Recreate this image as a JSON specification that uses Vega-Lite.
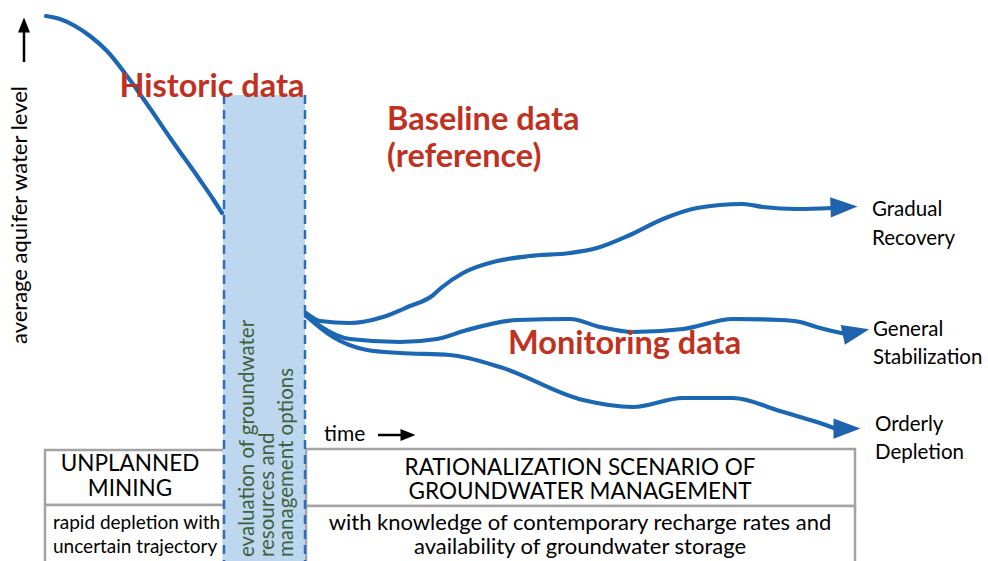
{
  "$schema": "https://vega.github.io/schema/vega-lite/v6.json",
  "width": 988,
  "height": 561,
  "autosize": "none",
  "padding": 0,
  "background": "white",
  "config": {"view": {"stroke": null}},
  "datasets": {
    "boxes": [
      {"x": 45, "x2": 224, "y": 450, "y2": 505},
      {"x": 45, "x2": 224, "y": 505, "y2": 580},
      {"x": 306, "x2": 855, "y": 449, "y2": 506},
      {"x": 306, "x2": 855, "y": 506, "y2": 580}
    ],
    "band": [{"x": 223, "x2": 305, "y": 95, "y2": 580}],
    "bandEdges": [{"x": 224, "y": 95, "y2": 561}, {"x": 305, "y": 95, "y2": 561}],
    "curves": [
      {"series": "historic", "i": 0, "x": 46, "y": 16},
      {"series": "historic", "i": 1, "x": 60, "y": 19},
      {"series": "historic", "i": 2, "x": 75, "y": 26},
      {"series": "historic", "i": 3, "x": 90, "y": 36},
      {"series": "historic", "i": 4, "x": 107, "y": 51},
      {"series": "historic", "i": 5, "x": 127, "y": 76},
      {"series": "historic", "i": 6, "x": 147, "y": 104},
      {"series": "historic", "i": 7, "x": 173, "y": 142},
      {"series": "historic", "i": 8, "x": 200, "y": 180},
      {"series": "historic", "i": 9, "x": 213, "y": 199},
      {"series": "historic", "i": 10, "x": 222, "y": 213},
      {"series": "recovery", "i": 0, "x": 306, "y": 313},
      {"series": "recovery", "i": 1, "x": 320, "y": 321},
      {"series": "recovery", "i": 2, "x": 350, "y": 323},
      {"series": "recovery", "i": 3, "x": 383, "y": 317},
      {"series": "recovery", "i": 4, "x": 410, "y": 306},
      {"series": "recovery", "i": 5, "x": 432, "y": 296},
      {"series": "recovery", "i": 6, "x": 441, "y": 288},
      {"series": "recovery", "i": 7, "x": 463, "y": 273},
      {"series": "recovery", "i": 8, "x": 497, "y": 261},
      {"series": "recovery", "i": 9, "x": 530, "y": 256},
      {"series": "recovery", "i": 10, "x": 570, "y": 253},
      {"series": "recovery", "i": 11, "x": 597, "y": 248},
      {"series": "recovery", "i": 12, "x": 630, "y": 235},
      {"series": "recovery", "i": 13, "x": 663, "y": 219},
      {"series": "recovery", "i": 14, "x": 697, "y": 208},
      {"series": "recovery", "i": 15, "x": 743, "y": 204},
      {"series": "recovery", "i": 16, "x": 763, "y": 207},
      {"series": "recovery", "i": 17, "x": 797, "y": 209},
      {"series": "recovery", "i": 18, "x": 832, "y": 208},
      {"series": "stabilization", "i": 0, "x": 306, "y": 315},
      {"series": "stabilization", "i": 1, "x": 320, "y": 326},
      {"series": "stabilization", "i": 2, "x": 350, "y": 339},
      {"series": "stabilization", "i": 3, "x": 400, "y": 342},
      {"series": "stabilization", "i": 4, "x": 437, "y": 339},
      {"series": "stabilization", "i": 5, "x": 467, "y": 330},
      {"series": "stabilization", "i": 6, "x": 517, "y": 320},
      {"series": "stabilization", "i": 7, "x": 570, "y": 319},
      {"series": "stabilization", "i": 8, "x": 600, "y": 327},
      {"series": "stabilization", "i": 9, "x": 633, "y": 332},
      {"series": "stabilization", "i": 10, "x": 683, "y": 329},
      {"series": "stabilization", "i": 11, "x": 733, "y": 319},
      {"series": "stabilization", "i": 12, "x": 780, "y": 320},
      {"series": "stabilization", "i": 13, "x": 800, "y": 322},
      {"series": "stabilization", "i": 14, "x": 820, "y": 328},
      {"series": "stabilization", "i": 15, "x": 846, "y": 334},
      {"series": "depletion", "i": 0, "x": 306, "y": 316},
      {"series": "depletion", "i": 1, "x": 333, "y": 337},
      {"series": "depletion", "i": 2, "x": 367, "y": 350},
      {"series": "depletion", "i": 3, "x": 400, "y": 353},
      {"series": "depletion", "i": 4, "x": 450, "y": 355},
      {"series": "depletion", "i": 5, "x": 500, "y": 367},
      {"series": "depletion", "i": 6, "x": 583, "y": 400},
      {"series": "depletion", "i": 7, "x": 633, "y": 407},
      {"series": "depletion", "i": 8, "x": 683, "y": 398},
      {"series": "depletion", "i": 9, "x": 733, "y": 398},
      {"series": "depletion", "i": 10, "x": 780, "y": 411},
      {"series": "depletion", "i": 11, "x": 800, "y": 417},
      {"series": "depletion", "i": 12, "x": 820, "y": 423},
      {"series": "depletion", "i": 13, "x": 834, "y": 428}
    ],
    "heads": [
      {"series": "recovery", "x": 844, "y": 207, "dir": -2},
      {"series": "stabilization", "x": 856, "y": 332, "dir": -12},
      {"series": "depletion", "x": 847, "y": 428.5, "dir": 0}
    ],
    "shafts": [
      {"x": 24, "y": 31, "x2": 24, "y2": 62},
      {"x": 378, "y": 435, "x2": 403, "y2": 435}
    ],
    "axisHeads": [
      {"x": 24, "y": 25, "dir": -90},
      {"x": 408, "y": 435, "dir": 0}
    ],
    "redCenter": [
      {"x": 212, "y": 97, "text": "Historic data"}
    ],
    "redLeft": [
      {"x": 387, "y": 130, "text": "Baseline data"},
      {"x": 387, "y": 167, "text": "(reference)"},
      {"x": 508, "y": 354, "text": "Monitoring data"}
    ],
    "outcomes": [
      {"x": 872, "y": 216, "text": "Gradual"},
      {"x": 872, "y": 245, "text": "Recovery"},
      {"x": 873, "y": 336, "text": "General"},
      {"x": 873, "y": 364, "text": "Stabilization"},
      {"x": 875, "y": 431, "text": "Orderly"},
      {"x": 875, "y": 459, "text": "Depletion"}
    ],
    "boxTitles": [
      {"x": 130, "y": 471, "text": "UNPLANNED"},
      {"x": 130, "y": 496, "text": "MINING"},
      {"x": 580, "y": 475, "text": "RATIONALIZATION SCENARIO OF"},
      {"x": 580, "y": 499, "text": "GROUNDWATER MANAGEMENT"}
    ],
    "boxLeftNotes": [
      {"x": 53, "y": 529, "text": "rapid depletion with"},
      {"x": 53, "y": 553, "text": "uncertain trajectory"}
    ],
    "boxRightNotes": [
      {"x": 580, "y": 530, "text": "with knowledge of contemporary recharge rates and"},
      {"x": 580, "y": 554, "text": "availability of groundwater storage"}
    ],
    "bandText": [
      {"x": 248, "y": 557, "text": "evaluation of groundwater"},
      {"x": 268, "y": 557, "text": "resources and"},
      {"x": 287, "y": 557, "text": "management options"}
    ],
    "axisText": [{"x": 20, "y": 215, "text": "average aquifer water level"}],
    "timeText": [{"x": 324, "y": 441, "text": "time"}]
  },
  "encoding": {
    "x": {"field": "x", "type": "quantitative", "scale": {"domain": [0, 988], "nice": false, "zero": false}, "axis": null},
    "y": {"field": "y", "type": "quantitative", "scale": {"domain": [0, 561], "reverse": true, "nice": false, "zero": false}, "axis": null}
  },
  "layer": [
    {
      "data": {"name": "boxes"},
      "mark": {"type": "rect", "fill": "white", "stroke": "#a3a3a3", "strokeWidth": 2.5},
      "encoding": {"x2": {"field": "x2"}, "y2": {"field": "y2"}}
    },
    {
      "data": {"name": "band"},
      "mark": {"type": "rect", "fill": "#bdd7ee"},
      "encoding": {"x2": {"field": "x2"}, "y2": {"field": "y2"}}
    },
    {
      "data": {"name": "bandEdges"},
      "mark": {"type": "rule", "stroke": "#2d6db5", "strokeWidth": 2.5, "strokeDash": [9, 6]},
      "encoding": {"y2": {"field": "y2"}}
    },
    {
      "data": {"name": "bandText"},
      "mark": {"type": "text", "angle": 270, "align": "left", "baseline": "middle", "font": "Lato", "fontSize": 20.5, "fill": "#3f5f3d"},
      "encoding": {"text": {"field": "text"}}
    },
    {
      "data": {"name": "curves"},
      "mark": {"type": "line", "interpolate": "monotone", "strokeWidth": 4.2, "stroke": "#1b67b2", "strokeCap": "round"},
      "encoding": {"detail": {"field": "series"}, "order": {"field": "i", "type": "quantitative"}}
    },
    {
      "data": {"name": "heads"},
      "mark": {"type": "point", "shape": "M-1,-0.75L1,0L-1,0.75Z", "filled": true, "size": 729, "color": "#1f62ad", "opacity": 1},
      "encoding": {"angle": {"field": "dir", "type": "quantitative", "scale": null}}
    },
    {
      "data": {"name": "shafts"},
      "mark": {"type": "rule", "stroke": "black", "strokeWidth": 2.5},
      "encoding": {"x2": {"field": "x2"}, "y2": {"field": "y2"}}
    },
    {
      "data": {"name": "axisHeads"},
      "mark": {"type": "point", "shape": "M-1,-0.8L1,0L-1,0.8Z", "filled": true, "size": 225, "color": "black", "opacity": 1},
      "encoding": {"angle": {"field": "dir", "type": "quantitative", "scale": null}}
    },
    {
      "data": {"name": "redCenter"},
      "mark": {"type": "text", "align": "center", "baseline": "alphabetic", "font": "Lato", "fontWeight": "bold", "fontSize": 32.5, "fill": "#c0321f"},
      "encoding": {"text": {"field": "text"}}
    },
    {
      "data": {"name": "redLeft"},
      "mark": {"type": "text", "align": "left", "baseline": "alphabetic", "font": "Lato", "fontWeight": "bold", "fontSize": 32.5, "fill": "#c0321f"},
      "encoding": {"text": {"field": "text"}}
    },
    {
      "data": {"name": "outcomes"},
      "mark": {"type": "text", "align": "left", "baseline": "alphabetic", "font": "Lato", "fontSize": 20.5, "fill": "black"},
      "encoding": {"text": {"field": "text"}}
    },
    {
      "data": {"name": "boxTitles"},
      "mark": {"type": "text", "align": "center", "baseline": "alphabetic", "font": "Lato", "fontSize": 22.5, "fill": "black"},
      "encoding": {"text": {"field": "text"}}
    },
    {
      "data": {"name": "boxLeftNotes"},
      "mark": {"type": "text", "align": "left", "baseline": "alphabetic", "font": "Lato", "fontSize": 19, "fill": "black"},
      "encoding": {"text": {"field": "text"}}
    },
    {
      "data": {"name": "boxRightNotes"},
      "mark": {"type": "text", "align": "center", "baseline": "alphabetic", "font": "Lato", "fontSize": 22, "fill": "black"},
      "encoding": {"text": {"field": "text"}}
    },
    {
      "data": {"name": "axisText"},
      "mark": {"type": "text", "angle": 270, "align": "center", "baseline": "middle", "font": "Lato", "fontSize": 22, "fill": "black"},
      "encoding": {"text": {"field": "text"}}
    },
    {
      "data": {"name": "timeText"},
      "mark": {"type": "text", "align": "left", "baseline": "alphabetic", "font": "Lato", "fontSize": 21, "fill": "black"},
      "encoding": {"text": {"field": "text"}}
    }
  ]
}
